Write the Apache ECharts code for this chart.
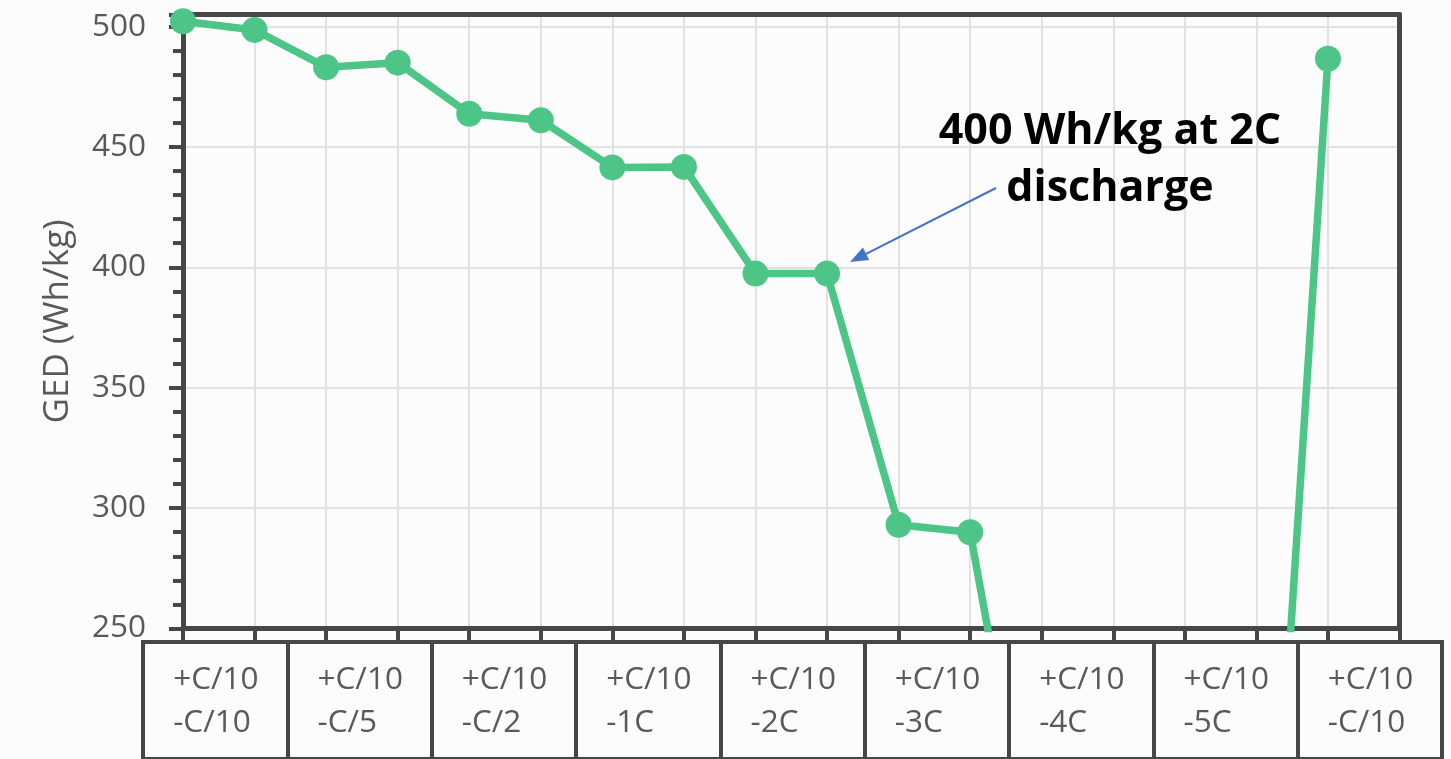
<!DOCTYPE html>
<html>
<head>
<meta charset="utf-8">
<script src="https://cdn.jsdelivr.net/npm/echarts@6/dist/echarts.min.js"></script>
<style>
  html, body { margin: 0; padding: 0; background: #fcfcfc; }
  #chart { width: 1451px; height: 759px; }
</style>
</head>
<body>
<div id="chart"></div>
<script>
// Rate-capability test: each charge/discharge protocol is run for two cycles.
const chargeRates    = ['+C/10', '+C/10', '+C/10', '+C/10', '+C/10', '+C/10', '+C/10', '+C/10', '+C/10'];
const dischargeRates = ['-C/10', '-C/5', '-C/2', '-1C', '-2C', '-3C', '-4C', '-5C', '-C/10'];
const cycleNumbers   = [1, 2, 3, 4, 5, 6, 7, 8, 9, 10, 11, 12, 13, 14, 15, 16, 17, 18];
// Gravimetric energy density per cycle (Wh/kg); the last cycle was not recorded.
const gedValues = [502.2, 498.6, 483.1, 485.0, 463.8, 461.1, 441.5, 441.7, 397.4, 397.4,
                   293.1, 290.0, 127, 95, 60, 30, 486.6, null];
const yTicks = { min: 250, max: 505, step: 50 };

const AXIS = '#474747';
const GRID = '#e2e2e2';
const TEXT = '#595959';
const GREEN = '#4dc586';
const FONT = '"Open Sans", "Noto Sans", sans-serif';
const FRAME_W = 5;

const protocolLabels = chargeRates.map((c, i) => c + '\n' + dischargeRates[i]);

// index of the highlighted 2C cycle and its rounded value for the callout
const calloutIdx = 9;
const calloutValue = Math.round(gedValues[calloutIdx] / 10) * 10;

const chart = echarts.init(document.getElementById('chart'), null, { renderer: 'canvas' });

// callout arrow geometry (tail -> tip)
const tail = [996, 188], tip = [850, 262];
const dx = tip[0] - tail[0], dy = tip[1] - tail[1];
const len = Math.hypot(dx, dy), ux = dx / len, uy = dy / len;
const headLen = 18, headHalf = 7;
const base = [tip[0] - ux * headLen, tip[1] - uy * headLen];

// plain frame axis line used on all four edges of the plot
const frameLine = { show: true, onZero: false, lineStyle: { color: AXIS, width: FRAME_W } };
const lastCycle = cycleNumbers.length - 1;
const frameY = (position) => ({
  gridIndex: 0, type: 'value', min: yTicks.min, max: yTicks.max, interval: yTicks.step,
  position, z: 3,
  axisLine: frameLine, axisTick: { show: false }, axisLabel: { show: false }, splitLine: { show: false }
});

chart.setOption({
  backgroundColor: '#fcfcfc',
  animation: false,
  grid: [
    { left: 183, right: 51.5, top: 14.5, bottom: 130.5, show: false },
    { left: 143, right: 9, top: 642, height: 140, show: true,
      borderColor: AXIS, borderWidth: 4, backgroundColor: 'transparent' }
  ],
  xAxis: [
    {
      gridIndex: 0, type: 'category', data: cycleNumbers, boundaryGap: false, position: 'bottom',
      axisLine: frameLine,
      axisTick: { show: true, interval: 0, length: 12, lineStyle: { color: AXIS, width: 4 } },
      axisLabel: { show: false },
      // inner verticals only; the outer edges belong to the frame
      splitLine: { show: true, interval: (i) => i !== 0 && i !== lastCycle,
                   lineStyle: { color: GRID, width: 2 } }
    },
    {
      gridIndex: 1, type: 'category', data: protocolLabels, boundaryGap: true, position: 'top',
      axisLine: { show: true, lineStyle: { color: AXIS, width: 4 } },
      axisTick: { show: false },
      splitLine: { show: true, interval: 0, lineStyle: { color: AXIS, width: 4 } },
      axisLabel: {
        inside: true, interval: 0, margin: 16.5, verticalAlign: 'top', align: 'center',
        formatter: v => v.split('\n').map(s => '{t|' + s + '}').join('\n'),
        rich: {
          t: { width: 84, align: 'left', fontSize: 31.5, lineHeight: 43, color: TEXT, fontFamily: FONT }
        }
      }
    },
    {
      gridIndex: 0, type: 'category', data: cycleNumbers, boundaryGap: false, position: 'top', z: 3,
      axisLine: frameLine, axisTick: { show: false }, axisLabel: { show: false }, splitLine: { show: false }
    }
  ],
  yAxis: [
    {
      gridIndex: 0, type: 'value', min: yTicks.min, max: yTicks.max, interval: yTicks.step,
      position: 'left',
      name: 'GED (Wh/kg)', nameLocation: 'middle', nameGap: 107,
      nameTextStyle: { fontSize: 35, color: TEXT, fontFamily: FONT },
      axisLine: frameLine,
      axisTick: { show: true, length: 14, lineStyle: { color: AXIS, width: 4 } },
      minorTick: { show: true, splitNumber: 5, length: 10, lineStyle: { color: AXIS, width: 4 } },
      axisLabel: { margin: 37, fontSize: 31.5, color: TEXT, fontFamily: FONT, showMaxLabel: false },
      splitLine: { show: true, lineStyle: { color: GRID, width: 2 } }
    },
    { gridIndex: 1, type: 'value', show: false },
    frameY('right'),
    frameY('left')
  ],
  series: [
    {
      type: 'line', xAxisIndex: 0, yAxisIndex: 0, data: gedValues,
      clip: true, connectNulls: false,
      symbol: 'circle', symbolSize: 26,
      lineStyle: { color: GREEN, width: 7.5 },
      itemStyle: { color: GREEN },
      z: 5
    }
  ],
  graphic: [
    {
      type: 'text', x: 1110, y: 160, z: 10,
      style: {
        text: calloutValue + ' Wh/kg at 2C\ndischarge',
        font: 'bold 43px ' + FONT, fill: '#000000',
        textAlign: 'center', textVerticalAlign: 'middle', lineHeight: 57
      }
    },
    {
      type: 'line', z: 10,
      shape: { x1: tail[0], y1: tail[1], x2: base[0], y2: base[1] },
      style: { stroke: '#4472c4', lineWidth: 2 }
    },
    {
      type: 'polygon', z: 10,
      shape: { points: [
        tip,
        [base[0] - uy * headHalf, base[1] + ux * headHalf],
        [base[0] + uy * headHalf, base[1] - ux * headHalf]
      ] },
      style: { fill: '#4472c4' }
    }
  ]
});
</script>
</body>
</html>
